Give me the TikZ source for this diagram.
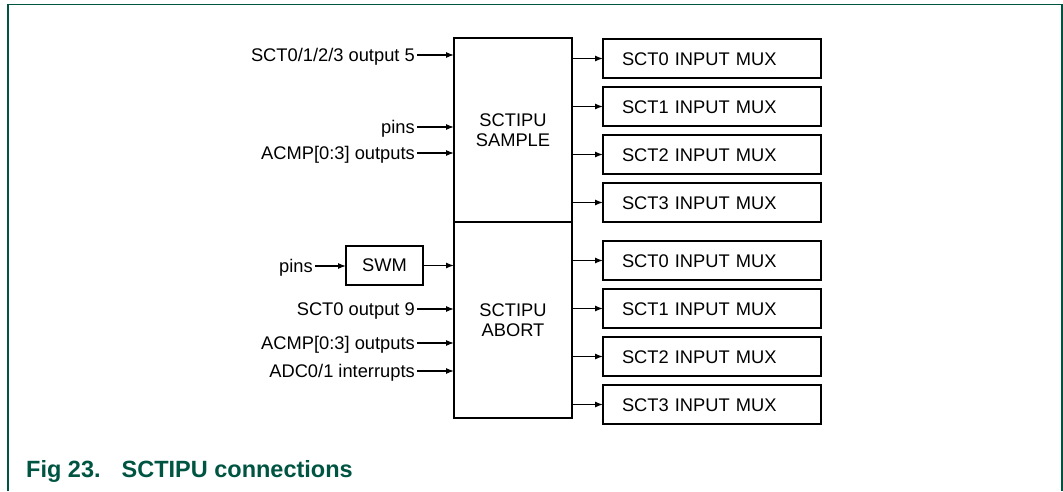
\documentclass[tikz,border=0pt]{standalone}
\usepackage{fontspec}
\setmainfont{Liberation Sans}
\usepackage{xcolor}
\usepackage{tikz}
\usetikzlibrary{arrows.meta,positioning}
\definecolor{figgreen}{RGB}{0,84,66}

\begin{document}
\begin{tikzpicture}[
    x=1pt, y=-1pt,
    node distance=9.5pt,
    block/.style={rectangle, draw, line width=2pt, outer sep=0pt, minimum width=118pt, align=center, font=\fontsize{18.3}{20}\selectfont},
    mux/.style={rectangle, draw, line width=2pt, outer sep=0pt, minimum height=38.5pt, text width=180pt, inner xsep=19pt, align=left, text height=13pt, text depth=0pt, font=\fontsize{18.3}{20}\selectfont},
    sig/.style={anchor=east, inner sep=2pt, text height=13pt, text depth=0pt, font=\fontsize{18.3}{20}\selectfont},
    link/.style={line width=1.2pt, -{Latex[length=8pt,width=6pt]}},
    frame/.style={draw=figgreen, line width=1.3pt}
]
    \useasboundingbox (0,0) rectangle (1063,491);

    % Frame and caption
    \draw[frame] (8,491) -- (8,4.5) -- (1062,4.5) -- (1062,491);
    \node[anchor=base west, inner sep=0pt, text=figgreen, font=\fontsize{23.5}{26}\selectfont\bfseries] (caption) at (26,477) {Fig 23.\hspace{21pt}SCTIPU connections};

    % SCTIPU blocks
    \node[block, minimum height=184pt] (sample) at (513,130) {SCTIPU\\SAMPLE};
    \node[block, minimum height=196pt, below=0pt of sample] (abort) {SCTIPU\\ABORT};
    \node[block, minimum width=77pt, minimum height=39pt] (swm) at (384.5,265.5) {SWM};

    % Input muxes
    \node[mux] (mux0a) at (712,58.5) {SCT0 INPUT MUX};
    \node[mux, below=of mux0a] (mux1a) {SCT1 INPUT MUX};
    \node[mux, below=of mux1a] (mux2a) {SCT2 INPUT MUX};
    \node[mux, below=of mux2a] (mux3a) {SCT3 INPUT MUX};
    \node[mux] (mux0b) at (712,260.5) {SCT0 INPUT MUX};
    \node[mux, below=of mux0b] (mux1b) {SCT1 INPUT MUX};
    \node[mux, below=of mux1b] (mux2b) {SCT2 INPUT MUX};
    \node[mux, below=of mux2b] (mux3b) {SCT3 INPUT MUX};

    % Sample inputs
    \node[sig] (outfive) at (417,55) {SCT0/1/2/3 output 5};
    \node[sig] (pinsa) at (417,127) {pins};
    \node[sig] (acmpa) at (417,153) {ACMP[0:3] outputs};
    \draw[link] (outfive.east) -- (outfive.east -| sample.west);
    \draw[link] (pinsa.east) -- (pinsa.east -| sample.west);
    \draw[link] (acmpa.east) -- (acmpa.east -| sample.west);

    % Abort inputs
    \node[sig] (pinsb) at (315,266) {pins};
    \node[sig] (outnine) at (417,309) {SCT0 output 9};
    \node[sig] (acmpb) at (417,343) {ACMP[0:3] outputs};
    \node[sig] (adcint) at (417,371) {ADC0/1 interrupts};
    \draw[link] (pinsb.east) -- (pinsb.east -| swm.west);
    \draw[link] (swm.east) -- (swm.east -| abort.west);
    \draw[link] (outnine.east) -- (outnine.east -| abort.west);
    \draw[link] (acmpb.east) -- (acmpb.east -| abort.west);
    \draw[link] (adcint.east) -- (adcint.east -| abort.west);

    % Outputs
    \draw[link] (sample.east |- mux0a) -- (mux0a.west);
    \draw[link] (sample.east |- mux1a) -- (mux1a.west);
    \draw[link] (sample.east |- mux2a) -- (mux2a.west);
    \draw[link] (sample.east |- mux3a) -- (mux3a.west);
    \draw[link] (abort.east |- mux0b) -- (mux0b.west);
    \draw[link] (abort.east |- mux1b) -- (mux1b.west);
    \draw[link] (abort.east |- mux2b) -- (mux2b.west);
    \draw[link] (abort.east |- mux3b) -- (mux3b.west);
\end{tikzpicture}
\end{document}
